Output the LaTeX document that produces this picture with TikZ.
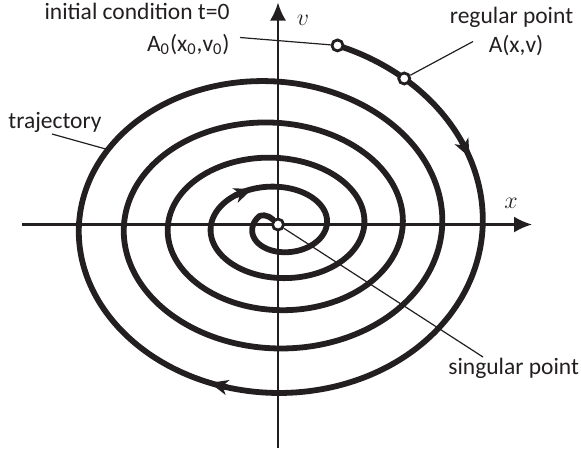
\documentclass[tikz,border=0pt]{standalone}
\usepackage{fontspec}
\setmainfont{Carlito}
\usepackage{tikz}
\usetikzlibrary{arrows.meta}
\definecolor{ink}{HTML}{231F20}

\begin{document}
\begin{tikzpicture}[x=0.5pt,y=0.5pt,>=Latex,
  declare function={
    su(\t)=(\t+810)/720;
    sa(\t)=118+82.5*su(\t)+2*su(\t)*su(\t);
    sb(\t)=84.5+70.4*su(\t)+12.4*su(\t)*su(\t);
    sx(\t)=-3-5*su(\t)+sa(\t)*cos(\t);
    sy(\t)=-1+sb(\t)*sin(\t);},
  axisline/.style={line width=1.1pt,draw=ink,-{Latex[length=9pt,width=8pt]}},
  trajline/.style={line width=2.9pt,draw=ink,line cap=round,line join=round},
  flowtip/.style={trajline,-{Stealth[length=9pt,width=7.5pt,inset=2.5pt]}},
  leader/.style={line width=0.6pt,draw=ink},
  ring/.style={circle,draw=ink,fill=white,line width=1.4pt,minimum size=5.5pt,inner sep=0pt},
  lbl/.style={font=\fontsize{11.75pt}{14pt}\selectfont,text=ink,inner sep=0pt}]
  \useasboundingbox (-278,-227.5) rectangle (303,224.5);
  \draw[axisline] (-256,0) -- (254,0);
  \draw[axisline] (0,-223) -- (0,222);
  \node[lbl] (xlab) at (233,21.5) {$x$};
  \node[lbl] (vlab) at (25,204.5) {$v$};
  \node[ring] (O) at (0,0) {};
  \coordinate (inner) at ({sx(-1640)},{sy(-1640)});
  \draw[trajline] (O) to[out=135,in=65] (inner)
    -- plot[domain=-1640:72,samples=500,smooth] ({sx(\x)},{sy(\x)});
  \draw[flowtip] ({sx(27)},{sy(27)}) -- ({sx(22)},{sy(22)});
  \draw[flowtip] ({sx(-102.5)},{sy(-102.5)}) -- ({sx(-107.5)},{sy(-107.5)});
  \draw[flowtip] ({sx(-1306)},{sy(-1306)}) -- ({sx(-1324)},{sy(-1324)});
  \node[ring] (A0) at ({sx(72)},{sy(72)}) {};
  \node[ring] (A) at ({sx(52)},{sy(52)}) {};
  \node[lbl,anchor=base east] (initT) at (-48,205) {initial condition t=0};
  \node[lbl,anchor=base east] (initA) at (-48,173.5) {A\textsubscript{0}(x\textsubscript{0},v\textsubscript{0})};
  \node[lbl,anchor=base] (regT) at (233.5,201) {regular point};
  \node[lbl,anchor=base] (regA) at (238,172.5) {A(x,v)};
  \node[lbl,anchor=base west] (trajT) at (-270,96.5) {trajectory};
  \node[lbl,anchor=base west] (singT) at (170,-149.5) {singular point};
  \coordinate (initend) at (-38,187);
  \coordinate (regend) at (195,183);
  \coordinate (trajend) at (-226,90.5);
  \coordinate (trajhit) at ({sx(-210)},{sy(-210)});
  \coordinate (singend) at (205,-132.5);
  \draw[leader] (initend) -- (A0);
  \draw[leader] (A) -- (regend);
  \draw[leader] (trajend) -- (trajhit);
  \draw[leader] (O) -- (singend);
\end{tikzpicture}
\end{document}
